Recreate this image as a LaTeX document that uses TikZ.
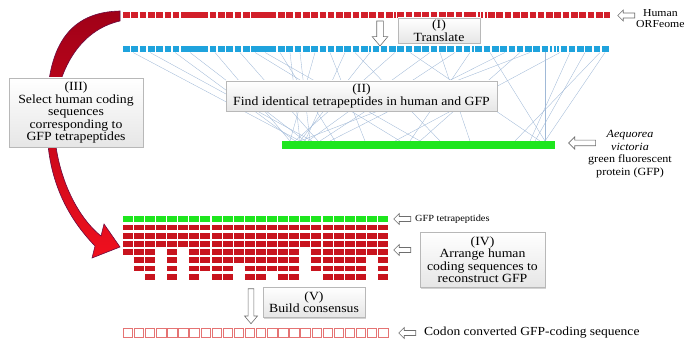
\documentclass[tikz,border=0pt]{standalone}
\usepackage{fontspec}
\setmainfont[FakeStretch=1.1]{Liberation Serif}
\usepackage{tikz}
\usetikzlibrary{arrows.meta,calc,positioning,shapes.arrows,shadows}
\definecolor{orfred}{HTML}{D21F2A}
\definecolor{protblue}{HTML}{1FA3DD}
\definecolor{gfpgreen}{HTML}{1EE61E}
\definecolor{blockred}{HTML}{C8141E}
\definecolor{codonpink}{HTML}{E57373}
\definecolor{linkblue}{HTML}{A0B9D7}
\definecolor{cardedge}{HTML}{B8B8B8}
\definecolor{cardfill}{HTML}{E6E6E6}
\definecolor{arrowgray}{HTML}{6E6E6E}
\definecolor{arcdark}{HTML}{A00018}
\definecolor{arcbright}{HTML}{F0101E}
\definecolor{arcedge}{HTML}{6A0A40}
\tikzset{
  graycard/.style={draw=cardedge,top color=white,bottom color=cardfill,line width=0.5pt,align=center,inner sep=1pt,font=\fontsize{12.5}{12.5}\selectfont,drop shadow={shadow xshift=1.2pt,shadow yshift=-1.5pt,opacity=0.35}},
  hollowleft/.style={single arrow,draw=arrowgray,fill=white,line width=0.6pt,shape border rotate=180,minimum height=17pt,single arrow head extend=3pt,inner sep=2.2pt},
  hollowdown/.style={single arrow,draw=arrowgray,fill=white,line width=0.6pt,shape border rotate=270,single arrow head extend=4.5pt,single arrow tip angle=80,inner sep=3pt},
  sidelabel/.style={align=center,inner sep=0pt,font=\fontsize{11}{12.5}\selectfont},
  matchline/.style={line width=0.35pt,color=linkblue},
  seqbar/.style={line width=6pt}
}

\begin{document}
\begin{tikzpicture}[x=1pt,y=-1pt]
  \useasboundingbox (0,0) rectangle (695,344);

  % curved red arrow (behind box III)
  \path[top color=arcdark,bottom color=arcbright,draw=arcedge,line width=0.6pt]
    (120,11) .. controls (70,12) and (45,45) .. (47,120)
    .. controls (46,175) and (65,215) .. (95,246) -- (92,258) -- (120,247) -- (104,224) -- (101,236)
    .. controls (75,215) and (54,170) .. (54,120)
    .. controls (56,70) and (80,30) .. (120,21) -- cycle;

  % ORFeome and translated bars
  \coordinate (orfL) at (123,15.5);
  \coordinate (orfR) at (610,15.5);
  \coordinate (protL) at (123,49.5);
  \coordinate (protR) at (610,49.5);
  \draw[seqbar,orfred,dash pattern=on 6.6pt off 1.7pt on 6.6pt off 1.7pt on 6.6pt off 1.7pt on 6.6pt off 1.7pt on 6.6pt off 1.7pt on 6.6pt off 1.7pt on 6.6pt off 1.7pt
    on 27pt off 1.7pt on 6.6pt off 1.7pt on 6.6pt off 1.7pt on 6.6pt off 1.7pt on 6.6pt off 1.7pt on 6.6pt off 1.7pt on 25pt off 1.7pt
    on 6.6pt off 1.7pt on 6.6pt off 1.7pt on 6.6pt off 1.7pt on 6.6pt off 1.7pt on 6.6pt off 1.7pt on 6.6pt off 1.7pt on 6.6pt off 1.7pt
    on 6.6pt off 1.7pt on 6.6pt off 1.7pt on 6.6pt off 1.7pt on 6.6pt off 1.7pt on 6.6pt off 1.7pt on 6.6pt off 1.7pt on 6.6pt off 1.7pt
    on 1.5pt off 1.7pt on 6.6pt off 1.7pt on 6.6pt off 1.7pt on 6.6pt off 1.7pt on 6.6pt off 1.7pt on 6.6pt off 1.7pt on 6.6pt off 1.7pt
    on 6.6pt off 1.7pt on 6.6pt off 1.7pt on 12pt off 1.7pt on 2pt off 1.5pt on 2pt off 1.5pt on 2pt off 1.5pt
    on 6.6pt off 1.7pt on 6.6pt off 1.7pt on 6.6pt off 1.7pt on 6.6pt off 1.7pt on 6.6pt off 1.7pt on 6.6pt off 1.7pt on 6.6pt off 1.7pt
    on 6.6pt off 1.7pt on 6.6pt off 1.7pt on 6.6pt off 1.7pt on 6.6pt off 1.7pt on 6.6pt off 1.7pt on 6.6pt off 1.7pt on 6.6pt off 1.7pt on 6.6pt off 1.7pt]
    (orfL) -- (orfR);
  \draw[seqbar,protblue,dash pattern=on 6.6pt off 1.7pt on 6.6pt off 1.7pt on 6.6pt off 1.7pt on 6.6pt off 1.7pt on 6.6pt off 1.7pt on 6.6pt off 1.7pt on 6.6pt off 1.7pt
    on 27pt off 1.7pt on 6.6pt off 1.7pt on 6.6pt off 1.7pt on 6.6pt off 1.7pt on 6.6pt off 1.7pt on 6.6pt off 1.7pt on 25pt off 1.7pt
    on 6.6pt off 1.7pt on 6.6pt off 1.7pt on 6.6pt off 1.7pt on 6.6pt off 1.7pt on 6.6pt off 1.7pt on 6.6pt off 1.7pt on 6.6pt off 1.7pt
    on 6.6pt off 1.7pt on 6.6pt off 1.7pt on 6.6pt off 1.7pt on 6.6pt off 1.7pt on 1.5pt off 1.7pt on 6.6pt off 1.7pt on 6.6pt off 1.7pt
    on 6.6pt off 1.7pt on 6.6pt off 1.7pt on 6.6pt off 1.7pt on 6.6pt off 1.7pt on 6.6pt off 1.7pt on 6.6pt off 1.7pt on 6.6pt off 1.7pt
    on 6.6pt off 1.7pt on 6.6pt off 1.7pt on 6.6pt off 1.7pt on 1.5pt off 1.7pt on 6.6pt off 1.7pt on 6.6pt off 1.7pt on 6.6pt off 1.7pt
    on 6.6pt off 1.7pt on 6.6pt off 1.7pt on 6.6pt off 1.7pt on 6.6pt off 1.7pt on 6.6pt off 1.7pt on 6.6pt off 1.7pt on 2pt off 1.5pt
    on 2pt off 1.5pt on 2pt off 1.5pt on 6.6pt off 1.7pt on 6.6pt off 1.7pt on 6.6pt off 1.7pt on 6.6pt off 1.7pt on 6.6pt off 1.7pt]
    (protL) -- (protR);

  % identical tetrapeptides, human -> GFP
  \foreach \a/\b in {133/300,150/312,175/295,190/305,215/290,240/318,255/400,265/420,280/335,290/300,
                     300/310,315/290,330/365,345/305,355/440,370/300,395/295,410/540,430/308,440/470,
                     455/320,470/410,490/545,505/330,520/420,530/300,545/545,560/395,570/530,585/535,600/515,605/545}
    \draw[matchline] (\a,52.5) -- (\b,141);

  % GFP bar
  \coordinate (gfpL) at (282,145);
  \coordinate (gfpR) at (555,145);
  \draw[line width=8pt,gfpgreen] (gfpL) -- (gfpR);

  % steps
  \node[hollowdown,minimum height=25pt] (arrI) at (380,31.5) {};
  \node[graycard,minimum width=82pt,minimum height=25pt] (translate) at (439,30.5) {(I)\\Translate};
  \node[graycard,minimum width=271pt,minimum height=30pt] (findtetra) at (361.5,96) {(II)\\Find identical tetrapeptides in human and GFP};
  \node[graycard,minimum width=134pt,minimum height=69pt] (select) at (76,112.5) {(III)\\Select human coding\\sequences\\corresponding to\\GFP tetrapeptides};
  \node[graycard,minimum width=125pt,minimum height=55pt] (arrange) at (482.5,259.5) {(IV)\\Arrange human\\coding sequences to\\reconstruct GFP};
  \node[hollowdown,minimum height=35pt,inner sep=2.6pt,single arrow head extend=3.6pt] (arrV) at (251,304.5) {};
  \node[graycard,minimum width=102pt,minimum height=30pt] (consensus) at (314,302) {(V)\\Build consensus};

  % side labels
  \node[hollowleft] (arrorf) at (627.5,15.5) {};
  \node[sidelabel,anchor=west,font=\fontsize{10.7}{11}\selectfont] (orflab) at (636,18.5) {Human\\ORFeome};
  \node[hollowleft,minimum height=27pt,inner sep=2.5pt,single arrow head extend=3.3pt] (arrgfp) at (583.5,143) {};
  \node[sidelabel] (gfplab) at (630,154) {\textit{Aequorea}\\\textit{victoria}\\green fluorescent\\protein (GFP)};

  % reconstruction grid
  \foreach \i in {0,...,23}
    \fill[gfpgreen] (122.7+11.1*\i,216.5) rectangle ++(10,5.8);
  \foreach \r in {1,2,3}
    \foreach \i in {0,...,23}
      \fill[blockred] (122.7+11.1*\i,216.5+8.2*\r) rectangle ++(10,5.8);
  \foreach \r/\cols in {4/{0,1,2,4,6,7,8,9,10,11,12,13,14,15,17,18,19,20,21,22,23},
                        5/{1,2,4,6,7,8,9,10,11,12,13,14,15,17,18,19,20,21,23},
                        6/{1,2,4,6,7,8,9,11,12,13,14,15,17,18,19,20,21,23},
                        7/{2,4,6,8,9,11,12,14,15,18,19,20,21,23}}
    \foreach \i in \cols
      \fill[blockred] (122.7+11.1*\i,216.5+8.2*\r) rectangle ++(10,5.8);
  \node[hollowleft] (arrtetra) at (403.5,219) {};
  \node[sidelabel,anchor=west,font=\fontsize{9.4}{10}\selectfont] (tetralab) at (415,219) {GFP tetrapeptides};
  \node[hollowleft] (arrarr) at (403.5,250) {};

  % codon converted sequence
  \foreach \i in {0,...,23}
    \draw[codonpink,line width=0.7pt,fill=white] (123.2+11.1*\i,328.5) rectangle ++(9.4,8.5);
  \node[hollowleft] (arrcodon) at (408.5,333) {};
  \node[sidelabel,anchor=west,font=\fontsize{12.3}{13}\selectfont] (codonlab) at (424,333) {Codon converted GFP-coding sequence};
\end{tikzpicture}
\end{document}
